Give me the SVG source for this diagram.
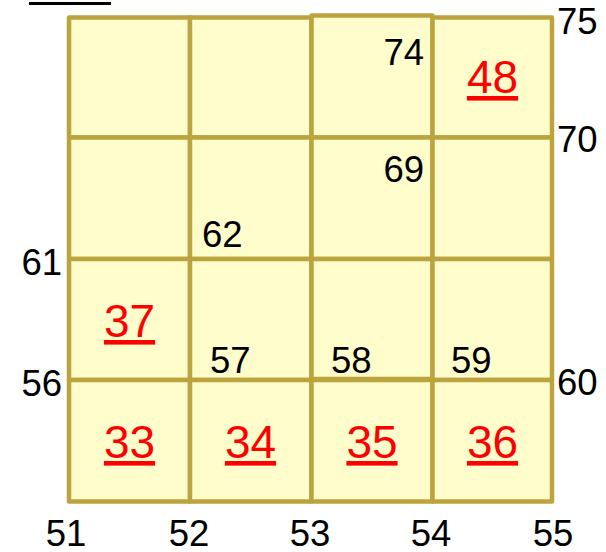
<svg xmlns="http://www.w3.org/2000/svg" width="606" height="552" viewBox="0 0 606 552">
<style>
.cell{fill:#FFFDCC;stroke:#BBA43E;stroke-width:4.5;stroke-linejoin:round}
.lbl{font-family:"Liberation Sans",Arial,sans-serif;font-size:36.5px;fill:#000}
.red{font-family:"Liberation Sans",Arial,sans-serif;font-size:46px;fill:#FF0000;text-anchor:middle;text-decoration:underline}
.mid{text-anchor:middle}
.end{text-anchor:end}
</style>
<rect x="0" y="0" width="606" height="552" fill="#fff"/>
<line x1="29" y1="3.5" x2="111" y2="3.5" stroke="#000" stroke-width="3"/>
<g id="cells">
<g id="c1"><rect class="cell" x="69" y="17.5" width="121" height="120"/></g>
<g id="c2"><rect class="cell" x="190" y="17.5" width="121.5" height="120"/></g>
<g id="c3"><rect class="cell" x="311.5" y="15.5" width="121" height="122"/><text class="lbl end" x="424" y="65">74</text></g>
<g id="c4"><rect class="cell" x="432.5" y="17.5" width="119.5" height="120"/><text class="red" x="492.5" y="93">48</text></g>
<g id="c5"><rect class="cell" x="69" y="137.5" width="121" height="121.5"/></g>
<g id="c6"><rect class="cell" x="190" y="137.5" width="121.5" height="121.5"/><text class="lbl" x="202" y="247">62</text></g>
<g id="c7"><rect class="cell" x="311.5" y="137.5" width="121" height="121.5"/><text class="lbl end" x="424" y="182">69</text></g>
<g id="c8"><rect class="cell" x="432.5" y="137.5" width="119.5" height="121.5"/></g>
<g id="c9"><rect class="cell" x="69" y="259" width="121" height="121"/><text class="red" x="129.5" y="337">37</text></g>
<g id="c10"><rect class="cell" x="190" y="259" width="121.5" height="121"/><text class="lbl" x="210" y="373">57</text></g>
<g id="c11"><rect class="cell" x="311.5" y="259" width="121" height="120"/><text class="lbl" x="331" y="373">58</text></g>
<g id="c12"><rect class="cell" x="432.5" y="259" width="119.5" height="121"/><text class="lbl" x="451" y="373">59</text></g>
<g id="c13"><rect class="cell" x="69" y="380" width="121" height="121.5"/><text class="red" x="129.5" y="458">33</text></g>
<g id="c14"><rect class="cell" x="190" y="380" width="121.5" height="121.5"/><text class="red" x="250.5" y="458">34</text></g>
<g id="c15"><rect class="cell" x="311.5" y="380" width="121" height="121.5"/><text class="red" x="372" y="458">35</text></g>
<g id="c16"><rect class="cell" x="432.5" y="380" width="119.5" height="121.5"/><text class="red" x="492.5" y="458">36</text></g>
</g>
<g id="connectors"></g>
<g id="axis-labels">
<text class="lbl" x="557" y="34">75</text>
<text class="lbl" x="557" y="152">70</text>
<text class="lbl" x="557" y="395">60</text>
<text class="lbl end" x="62" y="275">61</text>
<text class="lbl end" x="62" y="396">56</text>
<text class="lbl mid" x="66" y="546">51</text>
<text class="lbl mid" x="189" y="546">52</text>
<text class="lbl mid" x="310" y="546">53</text>
<text class="lbl mid" x="431" y="546">54</text>
<text class="lbl mid" x="553" y="546">55</text>
</g>
</svg>
